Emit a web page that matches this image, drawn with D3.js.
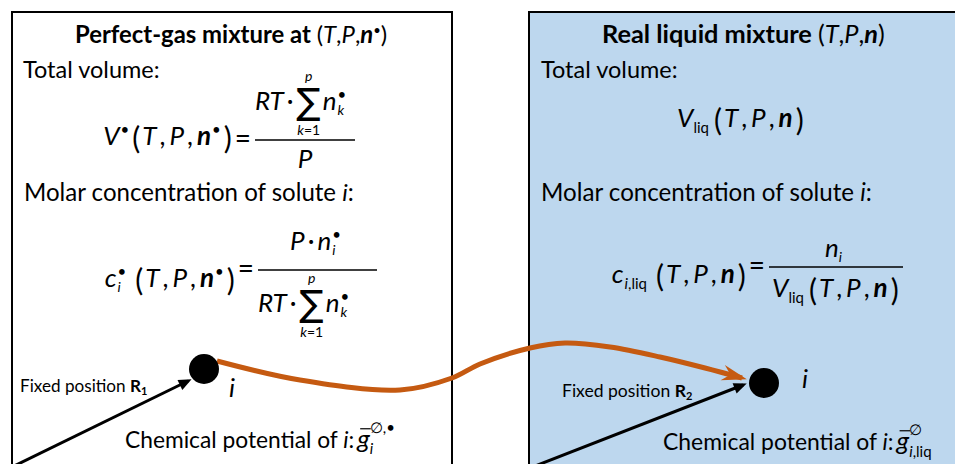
<!DOCTYPE html>
<meta charset="utf-8">
<style>
body { margin: 0; background: #fff; }
text { font-family: Lato, "Open Sans", sans-serif; fill: #000; }
.it { font-style: italic; }
.bd { font-weight: bold; }
.bi { font-weight: bold; font-style: italic; }
</style>
<body>
<script src="https://cdn.jsdelivr.net/npm/d3@7"></script>
<script>

var width = 955,
    height = 464;

// texts of the two panels
var titles = ["Perfect-gas mixture at ", "Real liquid mixture "];
var headings = ["Total volume:", "Molar concentration of solute "];
var fixedLabel = "Fixed position ";
var positionNames = ["1", "2"];
var potentialLabel = "Chemical potential of ";
var superscripts = ["\u2205,\u2022", "\u2205"];

// centre line of the orange transfer arrow (left dot -> right dot)
var transferPath = [[217,361],[300,380],[400,390],[452,378],[480,364],[530,348],[565,343],[610,347],[660,357],[705,368],[742,378]];

var svg = d3.select("body").append("svg")
    .attr("width", width)
    .attr("height", height);

var defs = svg.append("defs");
defs.append("marker")
    .attr("id", "headO")
    .attr("viewBox", "-22 -10 30 20")
    .attr("markerWidth", 30).attr("markerHeight", 20)
    .attr("markerUnits", "userSpaceOnUse")
    .attr("orient", "auto")
  .append("path")
    .attr("d", "M5,0 L-20,-8 L-12,0 L-20,8 Z")
    .attr("fill", "#c55a11");
defs.append("marker")
    .attr("id", "headK")
    .attr("viewBox", "-12 -8 18 16")
    .attr("markerWidth", 18).attr("markerHeight", 16)
    .attr("markerUnits", "userSpaceOnUse")
    .attr("orient", "auto")
  .append("path")
    .attr("d", "M4,0 L-9,-5.5 L-9,5.5 Z")
    .attr("fill", "#000");

// boxes
svg.append("rect")
    .attr("x", 12).attr("y", 12).attr("width", 440).attr("height", 470)
    .attr("fill", "#fff").attr("stroke", "#000").attr("stroke-width", 2);
svg.append("rect")
    .attr("x", 529).attr("y", 12).attr("width", 440).attr("height", 470)
    .attr("fill", "#bdd7ee").attr("stroke", "#000").attr("stroke-width", 2);

// lay out a run of pieces left to right, measuring each one
function seq(g, x, y, size, items) {
  var cx = x, prev = x;
  items.forEach(function(it) {
    var fs = it.s || size;
    var start = it.back ? prev : cx + (it.gap || 0);
    var t = g.append("text")
        .attr("x", start)
        .attr("y", y + (it.dy || 0))
        .attr("font-size", fs);
    var parts = Array.isArray(it.t) ? it.t : [[it.t, it.c]];
    parts.forEach(function(p) {
      var s = t.append("tspan").text(p[0].replace(/ /g, "\u00a0"));
      if (p[1]) s.attr("class", p[1]);
    });
    if (it.f) t.style("font-family", it.f);
    var w = t.node().getComputedTextLength();
    if (it.bar) {
      g.append("line")
          .attr("x1", start + 3).attr("x2", start + w + 1)
          .attr("y1", y - fs * 0.74).attr("y2", y - fs * 0.74)
          .attr("stroke", "#000").attr("stroke-width", 1.2);
    }
    if (it.over) {
      g.append("text").attr("x", start + w / 2).attr("y", y - size * 1.12)
          .attr("text-anchor", "middle").attr("font-size", 14)
          .attr("class", "it").text(it.over);
    }
    if (it.under) {
      var u = g.append("text").attr("x", start + w / 2).attr("y", y + size * 0.97)
          .attr("text-anchor", "middle").attr("font-size", 14);
      u.append("tspan").attr("class", "it").text(it.under[0]);
      u.append("tspan").text(it.under[1]);
    }
    if (!it.back) prev = start;
    cx = Math.max(cx, start + w);
  });
  return cx;
}

function seqWidth(size, items) {
  var g = svg.append("g").attr("opacity", 0);
  var w = seq(g, 0, 0, size, items);
  g.remove();
  return w;
}

// same as seq, but the base size is scaled so the run is w pixels wide
function fitSeq(g, x, y, size, items, w) {
  return seq(g, x, y, size * w / seqWidth(size, items), items);
}

// run that ends at x
function seqRight(g, x, y, size, items) {
  return seq(g, x - seqWidth(size, items), y, size, items);
}

var dot = function() { return {t: "\u2022", s: 15, dy: -10, gap: 1}; };
var sum = function() { return {t: "\u2211", s: 36, f: "DejaVu Sans", gap: 3, dy: 4, over: "p", under: ["k", "=1"]}; };
var args = function(n, g0) {
  var a = [{t: "(", s: 30, dy: 4, gap: g0}, {t: "T", c: "it", gap: 2}, {t: ",", gap: 3},
           {t: "P", c: "it", gap: 4}, {t: ",", gap: 3}, {t: "n", c: "bi", gap: 4}];
  if (n) a.push(dot());
  a.push({t: ")", s: 30, dy: 4, gap: 3});
  return a;
};

function fraction(g, x0, x1, y) {
  g.append("line").attr("x1", x0).attr("x2", x1).attr("y1", y).attr("y2", y)
      .attr("stroke", "#000").attr("stroke-width", 1.3);
}

// "=" placed just left of the fraction bar, centred on it; returns its left edge
function equals(g, x0, y) {
  var eq = [{t: "="}];
  var x = x0 - 4 - seqWidth(28, eq);
  seq(g, x, y + 8, 28, eq);
  return x;
}

var L = svg.append("g"), R = svg.append("g");

// titles
fitSeq(L, 75, 43, 22, [{t: titles[0], c: "bd"}, {t: "("}, {t: "T", c: "it"}, {t: ","},
    {t: "P", c: "it"}, {t: ","}, {t: "n", c: "bi"}, {t: "\u2022", s: 13, dy: -8}, {t: ")"}], 313);
fitSeq(R, 602, 43, 22, [{t: titles[1], c: "bd"}, {t: "("}, {t: "T", c: "it"}, {t: ","},
    {t: "P", c: "it"}, {t: ","}, {t: "n", c: "bi"}, {t: ")"}], 283);

// headings
seq(L, 23, 78, 23.5, [{t: headings[0]}]);
seq(R, 541, 78, 23.5, [{t: headings[0]}]);
fitSeq(L, 24, 201, 23, [{t: headings[1]}, {t: "i", c: "it"}, {t: ":"}], 330);
fitSeq(R, 541, 201, 23, [{t: headings[1]}, {t: "i", c: "it"}, {t: ":"}], 331);

var ms = 26;

// V•(T,P,n•) = RT·Σn_k• / P
var xq = equals(L, 255, 140);
seqRight(L, xq - 3, 145, ms, [{t: "V", c: "it"}, dot()].concat(args(true, 3)));
fraction(L, 255, 355, 140);
seq(L, 255, 110, ms, [{t: "RT", c: "it"}, {t: "\u00b7", gap: 3}, sum(),
    {t: "n", c: "it", gap: 2}, dot(), {t: "k", c: "it", s: 14, dy: 5, back: true}]);
seq(L, 305 - seqWidth(ms, [{t: "P", c: "it"}]) / 2, 168, ms, [{t: "P", c: "it"}]);

// c_i•(T,P,n•) = P·n_i• / (RT·Σn_k•)
xq = equals(L, 258, 270);
seqRight(L, xq - 3, 287, ms, [{t: "c", c: "it"}, dot(), {t: "i", c: "it", s: 14, dy: 5, back: true}]
    .concat(args(true, 9)));
fraction(L, 258, 377, 270);
seq(L, 290, 250, ms, [{t: "P", c: "it"}, {t: "\u00b7", gap: 3}, {t: "n", c: "it", gap: 3}, dot(),
    {t: "i", c: "it", s: 14, dy: 5, back: true}]);
seq(L, 258, 312, ms, [{t: "RT", c: "it"}, {t: "\u00b7", gap: 3}, sum(),
    {t: "n", c: "it", gap: 2}, dot(), {t: "k", c: "it", s: 14, dy: 5, back: true}]);

// V_liq(T,P,n)
var vliq = [{t: "V", c: "it"}, {t: "liq", s: 15, dy: 6}].concat(args(false, 5));
seq(R, 677, 127, ms, vliq);

// c_i,liq(T,P,n) = n_i / V_liq(T,P,n)
xq = equals(R, 769, 267);
seqRight(R, xq - 3, 283, ms, [{t: "c", c: "it"}, {t: [["i", "it"], [",liq"]], s: 15, dy: 6, gap: 1}]
    .concat(args(false, 9)));
fraction(R, 769, 903, 267);
seq(R, 825, 257, ms, [{t: "n", c: "it"}, {t: "i", c: "it", s: 14, dy: 5}]);
seq(R, 772, 297, ms, vliq);

// chemical potentials
fitSeq(L, 125, 448, 24, [{t: potentialLabel}, {t: "i", c: "it"}, {t: ":"},
    {t: "g", c: "it", gap: 3, s: 26, bar: true}, {t: superscripts[0], s: 15, dy: -15},
    {t: "i", c: "it", s: 15, dy: 6, back: true}], 268);
fitSeq(R, 663, 450, 24, [{t: potentialLabel}, {t: "i", c: "it"}, {t: ":"},
    {t: "g", c: "it", gap: 3, s: 26, bar: true}, {t: superscripts[1], s: 15, dy: -15},
    {t: [["i", "it"], [",liq"]], s: 15, dy: 7, back: true}], 267);

// fixed position labels
fitSeq(L, 20, 392, 16, [{t: fixedLabel}, {t: "R", c: "bd"}, {t: positionNames[0], c: "bd", s: 11, dy: 3}], 128);
fitSeq(R, 562, 397, 16, [{t: fixedLabel}, {t: "R", c: "bd"}, {t: positionNames[1], c: "bd", s: 11, dy: 3}], 131);

// transfer arrow
svg.append("path")
    .datum(transferPath)
    .attr("d", d3.line().curve(d3.curveCatmullRom))
    .attr("fill", "none")
    .attr("stroke", "#c55a11")
    .attr("stroke-width", 5)
    .attr("marker-end", "url(#headO)");

// position vectors
[[[10, 468], [188, 381]], [[530, 468], [743, 385]]].forEach(function(p) {
  svg.append("line")
      .attr("x1", p[0][0]).attr("y1", p[0][1])
      .attr("x2", p[1][0]).attr("y2", p[1][1])
      .attr("stroke", "#000").attr("stroke-width", 3)
      .attr("marker-end", "url(#headK)");
});

// molecules
svg.selectAll("circle.mol")
    .data([[204, 369], [764, 383]])
  .enter().append("circle")
    .attr("class", "mol")
    .attr("cx", function(d) { return d[0]; })
    .attr("cy", function(d) { return d[1]; })
    .attr("r", 15)
    .attr("fill", "#000");

seq(L, 229, 397, 26, [{t: "i", c: "it"}]);
seq(R, 802, 388, 26, [{t: "i", c: "it"}]);

</script>
